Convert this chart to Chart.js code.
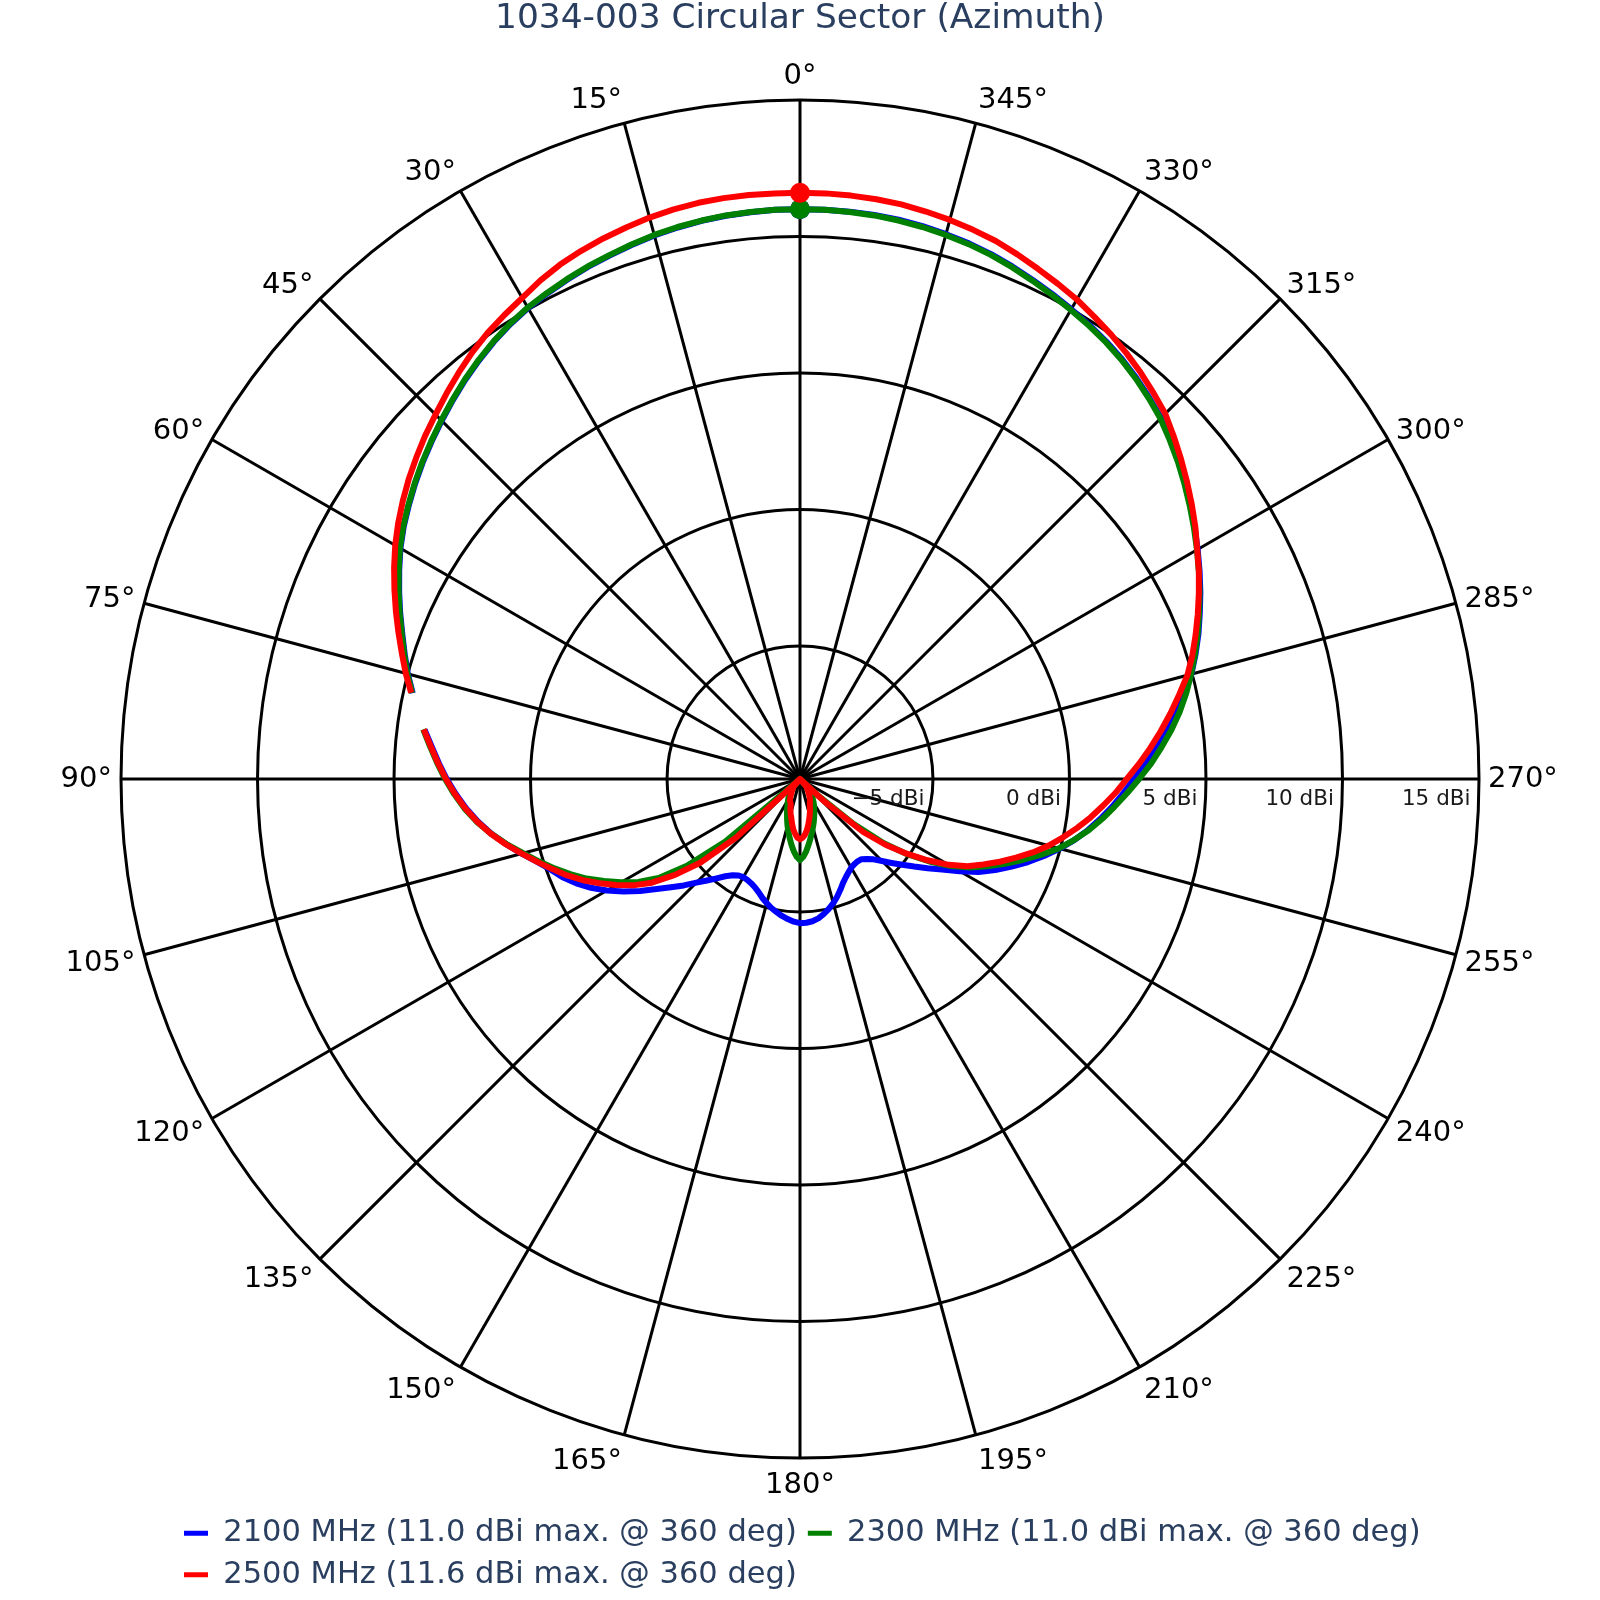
<!DOCTYPE html>
<html>
<head>
<meta charset="utf-8">
<script src="https://cdn.jsdelivr.net/npm/chart.js@4.4.1/dist/chart.umd.min.js"></script>
<style>
html,body{margin:0;padding:0;background:#ffffff;}
canvas{display:block;}
</style>
</head>
<body>
<canvas id="c" width="1600" height="1600"></canvas>
<script>
// ---------------- data ----------------
const chartTitle = '1034-003 Circular Sector (Azimuth)';
const angleStep = 2.5;                       // azimuth sampling (deg), counter-clockwise from top
const angles = Array.from({length: 144}, (_, i) => i * angleStep);

const seriesNames = [
  '2100 MHz (11.0 dBi max. @ 360 deg)',
  '2300 MHz (11.0 dBi max. @ 360 deg)',
  '2500 MHz (11.6 dBi max. @ 360 deg)'
];
const seriesColors = ['#0000ff', '#008000', '#ff0000'];

// gain in dBi at angles 0, 2.5, 5 ... 357.5 (null = no data)
const gain2100 = [
  11.00, 11.00, 10.97, 10.94, 10.89, 10.82, 10.74, 10.64, 10.53, 10.43, 10.31, 10.18,
  10.05,  9.88,  9.68,  9.45,  9.21,  8.95,  8.69,  8.43,  8.17,  7.90,  7.62,  7.34,
   7.03,  6.68,  6.33,  5.98,  5.63,  5.31,  5.00,  4.66,  null,  4.00,  3.67,  3.37,
   3.07,  2.75,  2.41,  2.03,  1.62,  1.16,  0.68,  0.22, -0.16, -0.46, -0.83, -1.24,
  -1.70, -2.20, -2.72, -3.25, -3.70, -4.10, -4.50, -4.83, -5.12, -5.38, -5.57, -5.68,
  -5.72, -5.70, -5.65, -5.57, -5.45, -5.30, -5.16, -5.03, -4.92, -4.81, -4.72, -4.64,
  -4.59, -4.60, -4.64, -4.72, -4.85, -5.00, -5.16, -5.35, -5.55, -5.75, -5.90, -6.02,
  -6.12, -6.17, -6.19, -6.17, -6.05, -5.88, -5.62, -5.32, -4.98, -4.60, -4.17, -3.70,
  -3.12, -2.50, -1.98, -1.48, -0.98, -0.50, -0.02,  0.43,  0.85,  1.24,  1.62,  1.99,
   2.36,  2.80,  3.25,  3.70,  4.14,  4.57,  4.97,  5.32,  5.66,  5.98,  6.31,  6.63,
   6.95,  7.27,  7.59,  7.91,  8.23,  8.53,  8.83,  9.07,  9.30,  9.51,  9.69,  9.85,
  10.00, 10.15, 10.30, 10.45, 10.59, 10.70, 10.79, 10.87, 10.93, 10.97, 10.99, 11.00
];
const gain2300 = [
  11.00, 11.00, 10.98, 10.95, 10.90, 10.84, 10.76, 10.66, 10.55, 10.45, 10.33, 10.20,
  10.07,  9.90,  9.70,  9.47,  9.23,  8.97,  8.71,  8.45,  8.19,  7.92,  7.64,  7.36,
   7.05,  6.70,  6.35,  6.00,  5.65,  5.33,  5.02,  4.68,  null,  4.05,  3.73,  3.43,
   3.13,  2.81,  2.47,  2.08,  1.63,  1.14,  0.63,  0.16, -0.30, -0.76, -1.24, -1.78,
  -2.30, -2.85, -3.55, -4.65, -6.30, -9.87, -9.87, -9.87, -9.40, -9.30, -9.20, -9.10,
  -9.00, -8.90, -8.78, -8.63, -8.48, -8.30, -8.10, -7.90, -7.68, -7.45, -7.22, -7.02,
  -6.90, -7.02, -7.22, -7.45, -7.66, -7.86, -8.04, -8.20, -8.36, -8.50, -8.64, -8.76,
  -8.87, -9.00, -9.12, -9.25, -9.40, -9.87, -9.87, -9.00, -7.30, -6.00, -5.05, -4.25,
  -3.50, -2.85, -2.30, -1.75, -1.20, -0.62, -0.05,  0.42,  0.88,  1.30,  1.70,  2.12,
   2.55,  3.00,  3.42,  3.85,  4.25,  4.62,  4.96,  5.30,  5.63,  5.95,  6.28,  6.60,
   6.92,  7.24,  7.56,  7.88,  8.20,  8.50,  8.80,  9.04,  9.27,  9.48,  9.66,  9.82,
   9.97, 10.12, 10.27, 10.42, 10.56, 10.67, 10.76, 10.84, 10.90, 10.95, 10.98, 11.00
];
const gain2500 = [
  11.60, 11.60, 11.60, 11.59, 11.56, 11.50, 11.42, 11.31, 11.20, 11.07, 10.92, 10.72,
  10.48, 10.28, 10.08,  9.84,  9.57,  9.29,  9.01,  8.75,  8.47,  8.19,  7.89,  7.58,
   7.25,  6.89,  6.52,  6.15,  5.78,  5.42,  5.08,  4.72,  null,  4.03,  3.70,  3.40,
   3.10,  2.78,  2.44,  2.06,  1.64,  1.17,  0.68,  0.22, -0.22, -0.64, -1.10, -1.60,
  -2.10, -2.62, -3.25, -4.10, -5.10, -6.70, -9.87, -9.87, -9.50, -9.45, -9.38, -9.30,
  -9.20, -9.10, -9.00, -8.95, -8.88, -8.70, -8.55, -8.40, -8.20, -8.00, -7.85, -7.72,
  -7.66, -7.72, -7.82, -7.97, -8.15, -8.33, -8.50, -8.65, -8.82, -8.93, -9.00, -9.10,
  -9.20, -9.30, -9.38, -9.45, -9.50, -9.87, -9.87, -8.60, -6.85, -5.90, -5.10, -4.33,
  -3.58, -2.95, -2.46, -1.95, -1.45, -0.93, -0.44,  0.00,  0.44,  0.87,  1.28,  1.70,
   2.10,  2.55,  3.00,  3.45,  3.90,  4.35,  4.82,  5.20,  5.55,  5.90,  6.25,  6.60,
   6.93,  7.30,  7.65,  8.00,  8.35,  8.70,  9.05,  9.30,  9.55,  9.78, 10.00, 10.20,
  10.41, 10.58, 10.75, 10.93, 11.10, 11.22, 11.33, 11.42, 11.50, 11.55, 11.58, 11.60
];

// axes
const radialMin = -9.87;
const radialMax = 15;
const radialTicks = [-5, 0, 5, 10, 15];
const radialTickLabels = ['\u22125 dBi', '0 dBi', '5 dBi', '10 dBi', '15 dBi'];
const angularTicks = [0, 15, 30, 45, 60, 75, 90, 105, 120, 135, 150, 165,
                      180, 195, 210, 225, 240, 255, 270, 285, 300, 315, 330, 345];
const angularTickLabels = angularTicks.map(a => a + '\u00b0');

// ---------------- build radar tables ----------------
// radar index i runs clockwise from the top; the reference runs counter-clockwise
const N = angles.length;
const angleIndexFor = i => (N - i) % N;
const labels = Array.from({length: N}, (_, i) => {
  const k = angularTicks.indexOf(angles[angleIndexFor(i)]);
  return k >= 0 ? angularTickLabels[k] : '';
});
const toRadar = arr => labels.map((_, i) => arr[angleIndexFor(i)]);
const isTick = i => angularTicks.indexOf(angles[angleIndexFor(i)]) >= 0;

Chart.defaults.font.family = "'DejaVu Sans'";

function makeDataset(arr, k, order) {
  return {
    label: seriesNames[k],
    data: toRadar(arr),
    borderColor: seriesColors[k],
    backgroundColor: seriesColors[k],
    fill: false,
    borderWidth: 6,
    tension: 0,
    spanGaps: false,
    borderJoinStyle: 'round',
    pointRadius: ctx => ctx.dataIndex === 0 ? 10 : 0,
    pointHoverRadius: 0,
    pointHitRadius: 0,
    pointBorderWidth: 0,
    pointBackgroundColor: seriesColors[k],
    order: order
  };
}

const layoutShift = {
  id: 'layoutShift',
  afterLayout(chart) {
    const t = chart.titleBlock;
    if (t) { t.left -= 10; t.right -= 10; }
    const lg = chart.legend;
    if (lg) { lg.left += 121; lg.right += 121; }
  }
};

const radialLabels = {
  id: 'radialLabels',
  afterDatasetsDraw(chart) {
    const s = chart.scales.r;
    const ctx = chart.ctx;
    ctx.save();
    ctx.font = "21.5px 'DejaVu Sans'";
    ctx.fillStyle = '#1a1a1a';
    ctx.textAlign = 'right';
    ctx.textBaseline = 'middle';
    radialTicks.forEach((v, i) => {
      const d = s.getDistanceFromCenterForValue(v);
      ctx.fillText(radialTickLabels[i], s.xCenter + d - 8.5, s.yCenter + 20);
    });
    ctx.restore();
  }
};

new Chart(document.getElementById('c'), {
  type: 'radar',
  data: {
    labels: labels,
    datasets: [
      makeDataset(gain2100, 0, 3),
      makeDataset(gain2300, 1, 2),
      makeDataset(gain2500, 2, 1)
    ]
  },
  options: {
    responsive: false,
    animation: false,
    devicePixelRatio: 1,
    events: [],
    layout: { padding: { left: 52, right: 32, top: 0, bottom: 0 } },
    scales: {
      r: {
        min: radialMin,
        max: radialMax,
        startAngle: 0,
        afterBuildTicks: s => { s.ticks = radialTicks.map(v => ({ value: v })); },
        ticks: { display: false },
        grid: { circular: true, color: '#000000', lineWidth: 3 },
        angleLines: {
          display: true,
          color: '#000000',
          lineWidth: ctx => isTick(ctx.index) ? 3 : 0
        },
        pointLabels: {
          display: true,
          padding: 9,
          color: '#000000',
          font: ctx => {
            const t = ctx.index * 2 * Math.PI / N;
            const c = Math.cos(t);
            const lh = c >= 0 ? 29.6 * c * c : 36 * Math.pow(-c, 0.8);
            return { size: 29, lineHeight: (Math.max(lh, 1) / 29).toFixed(4) };
          }
        }
      }
    },
    plugins: {
      title: {
        display: true,
        text: chartTitle,
        color: '#2a3f5f',
        font: { size: 34.4, weight: 'normal', lineHeight: 1.1 },
        padding: { top: 0, bottom: 21.16 }
      },
      legend: {
        display: true,
        position: 'bottom',
        align: 'start',
        labels: {
          boxWidth: 24,
          boxHeight: 5,
          padding: 11,
          color: '#2a3f5f',
          font: { size: 30.5 },
          sort: (a, b) => a.datasetIndex - b.datasetIndex,
          generateLabels: chart => Chart.defaults.plugins.legend.labels.generateLabels(chart)
            .map(l => Object.assign({}, l, { lineWidth: 0, fillStyle: l.strokeStyle }))
        }
      },
      tooltip: { enabled: false }
    }
  },
  plugins: [layoutShift, radialLabels]
});
</script>
</body>
</html>
